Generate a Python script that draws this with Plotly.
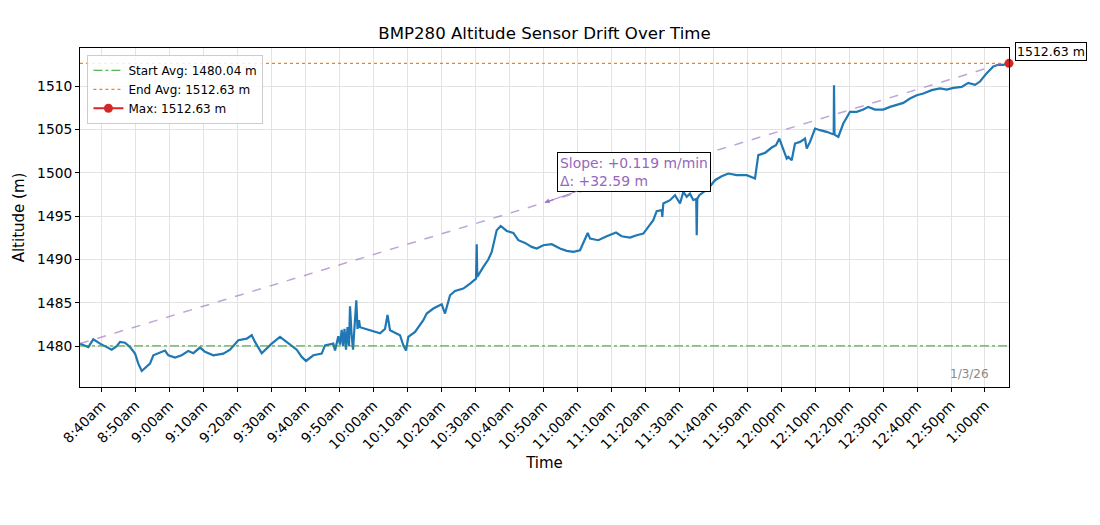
import plotly.graph_objects as go

DATE = "2026-01-03"

# Sensor readings (time of day, altitude in m)
times = [
    "08:33:40", "08:35:08", "08:36:07", "08:37:35", "08:38:35", "08:39:34", "08:41:32", "08:43:00",
    "08:44:28", "08:45:27", "08:46:55", "08:48:23", "08:49:52", "08:50:50", "08:51:50", "08:53:18",
    "08:54:16", "08:55:15", "08:56:43", "08:58:41", "08:59:40", "09:01:38", "09:03:36", "09:05:33",
    "09:07:01", "09:08:59", "09:10:28", "09:12:54", "09:15:51", "09:17:49", "09:20:16", "09:22:44",
    "09:24:12", "09:25:10", "09:27:09", "09:30:05", "09:32:32", "09:34:58", "09:37:27", "09:38:55",
    "09:40:11", "09:42:20", "09:44:48", "09:45:46", "09:48:13", "09:48:43", "09:49:10", "09:49:41",
    "09:50:11", "09:50:41", "09:51:04", "09:51:31", "09:51:57", "09:52:24", "09:52:50", "09:53:08",
    "09:53:34", "09:54:01", "09:54:28", "09:54:59", "09:55:20", "09:55:47", "09:56:04", "09:59:01",
    "10:01:58", "10:03:26", "10:04:10", "10:04:54", "10:07:51", "10:08:49", "10:09:37", "10:10:17",
    "10:12:16", "10:14:42", "10:15:42", "10:17:39", "10:20:07", "10:21:05", "10:22:34", "10:24:02",
    "10:26:28", "10:28:27", "10:30:13", "10:30:25", "10:30:35", "10:32:22", "10:33:50", "10:34:50",
    "10:36:18", "10:37:29", "10:39:15", "10:41:11", "10:42:40", "10:44:38", "10:46:36", "10:48:05",
    "10:50:01", "10:52:29", "10:54:56", "10:56:54", "10:58:51", "11:00:49", "11:02:17", "11:03:05",
    "11:03:46", "11:06:12", "11:08:41", "11:11:25", "11:13:05", "11:15:32", "11:17:30", "11:19:27",
    "11:20:55", "11:22:23", "11:23:23", "11:24:52", "11:25:02", "11:25:20", "11:27:18", "11:28:46",
    "11:30:15", "11:31:13", "11:32:13", "11:33:11", "11:34:10", "11:35:01", "11:35:10", "11:35:20",
    "11:35:56", "11:37:06", "11:38:35", "11:40:33", "11:42:31", "11:44:28", "11:46:56", "11:49:53",
    "11:51:21", "11:52:19", "11:53:17", "11:55:16", "11:57:14", "11:58:30", "11:59:28", "12:00:39",
    "12:01:39", "12:02:07", "12:03:07", "12:04:05", "12:05:34", "12:07:02", "12:07:32", "12:08:31",
    "12:09:59", "12:11:27", "12:13:25", "12:15:11", "12:15:29", "12:15:34", "12:15:43", "12:16:50",
    "12:18:18", "12:20:17", "12:22:15", "12:24:11", "12:25:40", "12:27:38", "12:30:05", "12:32:03",
    "12:34:01", "12:35:58", "12:37:56", "12:39:55", "12:41:51", "12:44:19", "12:46:46", "12:48:44",
    "12:50:41", "12:53:09", "12:55:05", "12:57:04", "12:58:32", "13:00:31", "13:02:27", "13:03:55",
    "13:05:23", "13:07:04",
]
altitude = [
    1480.3, 1480.1, 1479.9, 1480.8, 1480.5, 1480.3, 1479.9, 1479.6,
    1480.0, 1480.5, 1480.4, 1479.9, 1479.15, 1478.0, 1477.15, 1477.6,
    1478.0, 1478.96, 1479.2, 1479.5, 1478.96, 1478.7, 1478.96, 1479.46,
    1479.2, 1479.85, 1479.35, 1478.96, 1479.15, 1479.6, 1480.7, 1480.88,
    1481.27, 1480.5, 1479.2, 1480.3, 1481.07, 1480.3, 1479.6, 1478.77,
    1478.3, 1478.96, 1479.15, 1480.1, 1480.3, 1479.5, 1480.4, 1481.15,
    1480.2, 1481.9, 1480.0, 1482.0, 1479.6, 1482.2, 1480.0, 1484.6,
    1481.5, 1479.6, 1482.3, 1485.3, 1482.0, 1483.0, 1482.2, 1481.85,
    1481.5, 1482.0, 1483.6, 1481.85, 1481.27, 1480.1, 1479.5, 1481.07,
    1481.65, 1483.0, 1483.77, 1484.35, 1484.85, 1483.77, 1485.88, 1486.38,
    1486.65, 1487.23, 1487.8, 1491.77, 1488.0, 1489.15, 1490.0, 1490.88,
    1493.38, 1493.88, 1493.3, 1493.07, 1492.23, 1491.92, 1491.46, 1491.27,
    1491.65, 1491.77, 1491.27, 1491.0, 1490.88, 1491.07, 1492.42, 1493.07,
    1492.42, 1492.23, 1492.69, 1493.11, 1492.69, 1492.54, 1492.81, 1493.0,
    1493.77, 1494.54, 1495.58, 1495.7, 1494.92, 1496.46, 1496.85, 1497.42,
    1496.46, 1497.8, 1497.23, 1497.6, 1496.85, 1497.0, 1492.81, 1497.0,
    1497.42, 1497.8, 1498.19, 1499.15, 1499.6, 1499.92, 1499.73, 1499.73,
    1499.54, 1499.35, 1502.04, 1502.3, 1502.92, 1503.19, 1503.96, 1502.61,
    1501.65, 1501.84, 1501.46, 1503.38, 1503.57, 1503.96, 1502.8, 1503.57,
    1505.11, 1504.92, 1504.73, 1504.46, 1504.5, 1510.1, 1504.4, 1504.15,
    1505.69, 1507.04, 1507.04, 1507.3, 1507.61, 1507.3, 1507.3, 1507.61,
    1507.8, 1508.07, 1508.58, 1508.96, 1509.15, 1509.54, 1509.73, 1509.61,
    1509.8, 1509.92, 1510.38, 1510.15, 1510.53, 1511.5, 1512.27, 1512.46,
    1512.46, 1512.63,
]

start_avg = 1480.04
end_avg = 1512.63
max_value = 1512.63
slope_per_min = 0.119
delta = 32.59
trend_start = 1480.3
trend_mid_time = "10:50:22"

tick_times = [
    "08:40", "08:50", "09:00", "09:10", "09:20", "09:30", "09:40", "09:50", "10:00",
    "10:10", "10:20", "10:30", "10:40", "10:50", "11:00", "11:10", "11:20", "11:30",
    "11:40", "11:50", "12:00", "12:10", "12:20", "12:30", "12:40", "12:50", "13:00",
]
tick_labels = [
    "8:40am", "8:50am", "9:00am", "9:10am", "9:20am", "9:30am", "9:40am", "9:50am", "10:00am",
    "10:10am", "10:20am", "10:30am", "10:40am", "10:50am", "11:00am", "11:10am", "11:20am", "11:30am",
    "11:40am", "11:50am", "12:00pm", "12:10pm", "12:20pm", "12:30pm", "12:40pm", "12:50pm", "1:00pm",
]
date_label = "1/3/26"

# ---------------------------------------------------------------
x = [f"{DATE} {t}" for t in times]
t0, t1 = x[0], x[-1]


def minutes(t):
    h, m, s = (int(v) for v in t.split(":"))
    return h * 60 + m + s / 60


dur = minutes(times[-1]) - minutes(times[0])
trend_end = trend_start + slope_per_min * dur
trend_mid = trend_start + slope_per_min * (minutes(trend_mid_time) - minutes(times[0]))

FONT = "DejaVu Sans"
fig = go.Figure()

fig.add_trace(go.Scatter(x=x, y=altitude, mode="lines", line=dict(color="#1f77b4", width=2.2),
                         showlegend=False, hoverinfo="skip"))
fig.add_trace(go.Scatter(x=[t0, t1], y=[start_avg, start_avg], mode="lines",
                         line=dict(color="#2ca02c", width=1, dash="dashdot"),
                         name=f"Start Avg: {start_avg:.2f} m"))
fig.add_trace(go.Scatter(x=[t0, t1], y=[end_avg, end_avg], mode="lines",
                         line=dict(color="#ff7f0e", width=1.2, dash="dot"),
                         name=f"End Avg: {end_avg:.2f} m"))
fig.add_trace(go.Scatter(x=[t0, t1], y=[trend_start, trend_end], mode="lines",
                         line=dict(color="rgba(148,103,189,0.6)", width=1.5, dash="dash"),
                         showlegend=False))
fig.add_trace(go.Scatter(x=[t1], y=[max_value], mode="lines+markers",
                         line=dict(color="#d62728", width=2),
                         marker=dict(color="#d62728", size=9),
                         name=f"Max: {max_value:.2f} m", cliponaxis=False))

fig.add_annotation(x=f"{DATE} {trend_mid_time}", y=trend_mid, xref="x", yref="y",
                   text=f"Slope: +{slope_per_min:.3f} m/min<br>Δ: +{delta:.2f} m",
                   showarrow=True, ax=89, ay=-31, arrowhead=2, arrowsize=1, arrowwidth=1,
                   arrowcolor="rgba(148,103,189,0.8)", align="left",
                   font=dict(family=FONT, size=13.9, color="#9467bd"),
                   bgcolor="white", bordercolor="black", borderwidth=1, borderpad=2)
fig.add_annotation(x=t1, y=max_value, xref="x", yref="y", text=f"{max_value:.2f} m",
                   showarrow=False, xanchor="left", yanchor="middle", xshift=6, yshift=12,
                   font=dict(family=FONT, size=12.5, color="black"),
                   bgcolor="white", bordercolor="black", borderwidth=1, borderpad=1)
fig.add_annotation(x=0.958, y=0.038, xref="paper", yref="paper", text=date_label,
                   showarrow=False, xanchor="center", yanchor="middle",
                   font=dict(family=FONT, size=12, color="#888888"))

fig.update_layout(
    width=1100, height=525,
    margin=dict(l=72, r=99, t=40, b=146),
    paper_bgcolor="white", plot_bgcolor="white",
    font=dict(family=FONT, size=13.8, color="black"),
    title=dict(text="BMP280 Altitude Sensor Drift Over Time", x=0.5, xref="paper",
               y=1 - 25 / 525, yanchor="middle", font=dict(size=16.6)),
    legend=dict(x=0.008, y=0.98, xanchor="left", yanchor="top",
                bgcolor="rgba(255,255,255,0.85)", bordercolor="#cccccc", borderwidth=1,
                font=dict(size=12), tracegroupgap=0, itemwidth=30),
    showlegend=True,
)
fig.update_xaxes(
    range=[t0, t1], tickvals=[f"{DATE} {t}" for t in tick_times], ticktext=tick_labels,
    tickangle=-45, ticks="outside", ticklen=4, tickcolor="black",
    showgrid=True, gridcolor="#e3e3e3", gridwidth=1,
    showline=True, linecolor="black", linewidth=1, mirror=True,
    title=dict(text="Time", font=dict(size=15), standoff=6), zeroline=False,
)
fig.update_yaxes(
    range=[1475.3, 1514.4], tickvals=[1480, 1485, 1490, 1495, 1500, 1505, 1510],
    ticks="outside", ticklen=4, tickcolor="black",
    showgrid=True, gridcolor="#e3e3e3", gridwidth=1,
    showline=True, linecolor="black", linewidth=1, mirror=True,
    title=dict(text="Altitude (m)", font=dict(size=15), standoff=8), zeroline=False,
)

fig.write_html("out.html")
